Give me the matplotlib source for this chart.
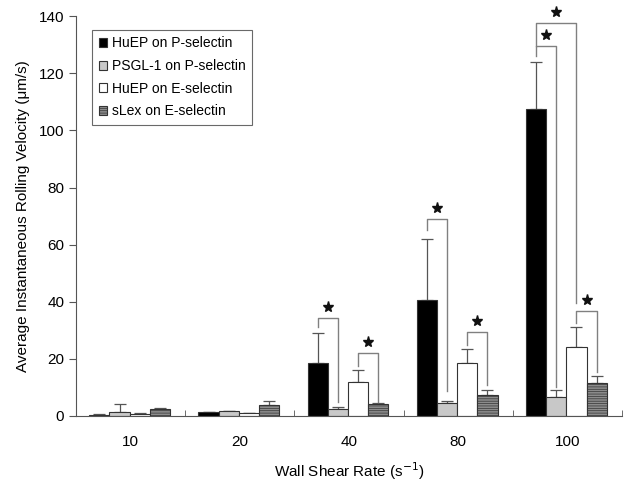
import numpy as np
import matplotlib
matplotlib.use('Agg')
import matplotlib.pyplot as plt
from matplotlib.ticker import FixedLocator

plt.rcParams['font.family'] = ['Liberation Sans', 'DejaVu Sans']
plt.rcParams['hatch.linewidth'] = 0.5

# data
shear_rates = ['10', '20', '40', '80', '100']
series = ['HuEP on P-selectin', 'PSGL-1 on P-selectin', 'HuEP on E-selectin', 'sLex on E-selectin']
huep_p = [0.4, 1.3, 18.5, 40.5, 107.5]
huep_p_err = [0.2, 0.2, 10.5, 21.5, 16.5]
psgl_p = [1.5, 1.6, 2.5, 4.6, 6.8]
psgl_p_err = [2.7, 0.3, 0.7, 0.5, 2.4]
huep_e = [0.7, 0.9, 11.8, 18.6, 24.0]
huep_e_err = [0.3, 0.1, 4.2, 5.0, 7.0]
slex_e = [2.3, 3.8, 4.2, 7.4, 11.7]
slex_e_err = [0.5, 1.5, 0.3, 1.7, 2.4]

# significance brackets: group, left bar, right bar, bracket height, left leg end, right leg end
brackets = [
    (2, 0, 1, 34.2, 31.0, 4.8),
    (2, 2, 3, 22.0, 17.5, 5.0),
    (3, 0, 1, 69.0, 65.0, 8.7),
    (3, 2, 3, 29.5, 25.0, 11.0),
    (4, 0, 1, 129.5, 126.0, 10.3),
    (4, 0, 2, 137.7, 129.5, 39.5),
    (4, 2, 3, 36.9, 32.5, 15.5),
]

means = [huep_p, psgl_p, huep_e, slex_e]
errs = [huep_p_err, psgl_p_err, huep_e_err, slex_e_err]
faces = ['black', '#c8c8c8', 'white', '#8c8c8c']
hatches = [None, None, None, '-------']

fig = plt.figure(figsize=(6.29, 4.92), dpi=100)
ax = fig.add_axes([0.121, 0.1545, 0.868, 0.8125])

x = np.arange(len(shear_rates))
width = 0.185
offsets = [(i - 1.5) * width - 0.01 for i in range(4)]

for i in range(4):
    ax.bar(x + offsets[i], means[i], width, color=faces[i], edgecolor='#333333',
           linewidth=0.8, hatch=hatches[i], label=series[i], zorder=2)
    ax.errorbar(x + offsets[i], means[i], yerr=[np.zeros(5), errs[i]], fmt='none',
                ecolor='#555555', elinewidth=0.9, capsize=4, capthick=0.9, zorder=1)

for g, a, b, top, lb, rb in brackets:
    xa = g + offsets[a]
    xb = g + offsets[b]
    ax.plot([xa, xa, xb, xb], [lb, top, top, rb], color='#808080', lw=1.0,
            zorder=3, clip_on=False)
    ax.plot((xa + xb) / 2, top + 3.8, marker='*', color='#111111', markersize=8,
            linestyle='none', clip_on=False, zorder=4)

ax.set_xlim(-0.5, 4.5)
ax.set_ylim(0, 140)
ax.set_yticks(range(0, 141, 20))
ax.set_xticks(x)
ax.set_xticklabels(shear_rates)
ax.tick_params(axis='x', which='major', length=0, pad=14, labelsize=11)
ax.xaxis.set_minor_locator(FixedLocator([0.5, 1.5, 2.5, 3.5, 4.5]))
ax.tick_params(axis='x', which='minor', direction='in', length=4, color='#555555')
ax.tick_params(axis='y', direction='out', length=5, labelsize=11, color='#555555')

for side in ['top', 'right']:
    ax.spines[side].set_visible(False)
for side in ['left', 'bottom']:
    ax.spines[side].set_color('#555555')

ax.set_xlabel('Wall Shear Rate (s$^{-1}$)', fontsize=11, labelpad=8)
ax.set_ylabel('Average Instantaneous Rolling Velocity (\u03bcm/s)', fontsize=11, labelpad=6)

leg = ax.legend(loc='upper left', bbox_to_anchor=(0.03, 0.965), borderaxespad=0,
                fontsize=10, handlelength=0.6, handleheight=0.6, handletextpad=0.35,
                fancybox=False, edgecolor='#444444', labelspacing=0.62,
                borderpad=0.45)
leg.get_frame().set_linewidth(0.8)

plt.savefig('out.png', dpi=100)
